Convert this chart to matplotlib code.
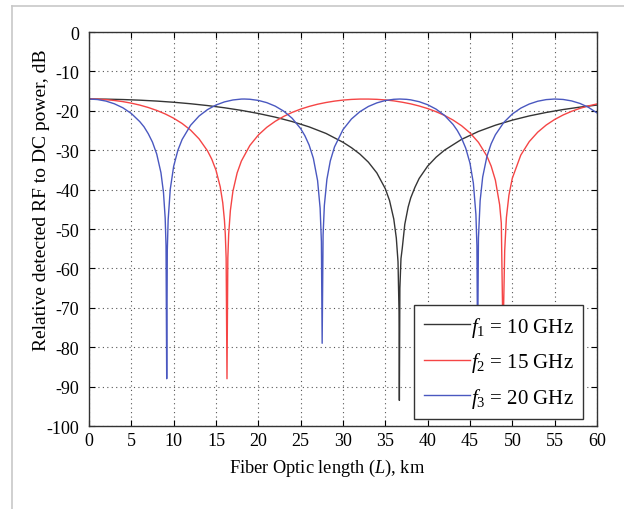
import matplotlib
matplotlib.use('Agg')
import matplotlib.pyplot as plt
from matplotlib.lines import Line2D

plt.rcParams['font.family'] = ['Liberation Serif', 'DejaVu Serif']
plt.rcParams['mathtext.fontset'] = 'custom'
plt.rcParams['mathtext.rm'] = 'Liberation Serif'
plt.rcParams['mathtext.it'] = 'Liberation Serif:italic'

# f1 = 10 GHz
L1 = [0, 2, 4, 6, 8, 10, 12, 14, 16, 18, 20, 22, 24, 26, 28, 30, 31, 32, 33, 34,
      35, 35.5, 36, 36.3, 36.5, 36.62, 36.66, 36.72, 36.85, 37, 37.3, 37.7, 38,
      38.5, 39, 40, 41, 42, 44, 46, 48, 50, 52, 54, 56, 58, 60]
P1 = [-17.0, -17.03, -17.13, -17.29, -17.52, -17.82, -18.2, -18.66, -19.22,
      -19.88, -20.67, -21.6, -22.72, -24.07, -25.74, -27.98, -29.35, -30.98,
      -33.03, -35.76, -39.77, -42.78, -47.46, -52.3, -58.3, -71.0, -93.5, -65.0,
      -57.5, -54.9, -48.8, -44.4, -42.1, -39.4, -37.15, -34.03, -31.76, -29.97,
      -27.25, -25.23, -23.65, -22.36, -21.29, -20.41, -19.67, -19.05, -18.53]

# f2 = 15 GHz
L2 = [0, 1, 2, 3, 4, 5, 6, 7, 8, 9, 10, 11, 12, 13, 14, 14.5, 15, 15.5, 15.8,
      16.0, 16.1, 16.2, 16.3, 16.4, 16.5, 16.7, 17.0, 17.5, 18, 19, 20, 21, 22,
      23, 24, 25, 26, 27, 28, 29, 30, 31, 32, 33, 34, 35, 36, 37, 38, 39, 40,
      41, 42, 43, 44, 45, 46, 47, 47.5, 48, 48.5, 48.7, 48.9, 49.1, 49.3, 49.6,
      50, 51, 52, 53, 54, 55, 56, 57, 58, 59, 60]
P2 = [-17.0, -17.04, -17.16, -17.37, -17.66, -18.05, -18.54, -19.15, -19.89,
      -20.78, -21.87, -23.21, -24.89, -27.11, -30.16, -32.26, -35.07, -39.27,
      -43.34, -47.78, -51.3, -57.4, -88.0, -57.3, -51.3, -45.3, -40.4, -35.75,
      -32.74, -28.79, -26.14, -24.18, -22.65, -21.41, -20.39, -19.56, -18.88,
      -18.32, -17.88, -17.53, -17.27, -17.1, -17.01, -17.01, -17.08, -17.23,
      -17.47, -17.81, -18.23, -18.77, -19.42, -20.22, -21.17, -22.34, -23.77,
      -25.59, -28.0, -31.49, -34.02, -37.6, -43.8, -48.5, -78.0, -55.5, -47.1,
      -41.4, -37.1, -31.24, -27.81, -25.42, -23.61, -22.19, -21.05, -20.12,
      -19.36, -18.74, -18.25]

# f3 = 20 GHz
L3 = [0, 1, 2, 3, 4, 5, 6, 6.5, 7, 7.5, 8, 8.5, 8.8, 9.0, 9.1, 9.18, 9.25, 9.35,
      9.6, 10, 10.5, 11, 12, 13, 14, 15, 16, 17, 18, 18.36, 19, 20, 21, 22, 23,
      24, 25, 25.5, 26, 26.5, 27, 27.3, 27.45, 27.54, 27.65, 27.8, 28.1, 28.5,
      29, 30, 31, 32, 33, 34, 35, 36, 36.7, 37.5, 38, 39, 40, 41, 42, 43, 43.5,
      44, 44.5, 45, 45.4, 45.7, 45.82, 45.9, 46.0, 46.2, 46.5, 47, 47.5, 48, 49,
      50, 51, 52, 53, 54, 55, 56, 57, 58, 59, 60]
P3 = [-17.0, -17.13, -17.52, -18.21, -19.22, -20.67, -22.74, -24.05, -25.8,
      -27.95, -30.96, -35.7, -40.74, -47.23, -54.3, -88.0, -55.4, -47.7, -39.9,
      -34.09, -30.0, -27.27, -23.67, -21.32, -19.68, -18.52, -17.73, -17.24,
      -17.01, -17.0, -17.06, -17.35, -17.92, -18.81, -20.08, -21.89, -24.51,
      -26.32, -28.68, -32.04, -37.7, -44.7, -53.2, -79.0, -51.5, -44.0, -37.4,
      -32.72, -29.14, -24.77, -22.07, -20.21, -18.89, -17.98, -17.38, -17.07,
      -17.0, -17.08, -17.21, -17.68, -18.45, -19.57, -21.17, -23.45, -24.98,
      -26.91, -29.49, -33.27, -38.37, -46.3, -54.3, -82.0, -52.3, -42.8, -36.8,
      -31.56, -28.36, -26.08, -22.92, -20.8, -19.31, -18.27, -17.56, -17.15,
      -17.0, -17.11, -17.48, -18.13, -19.12, -20.53]

labels = [r'$f_1$ = 10 GHz', r'$f_2$ = 15 GHz', r'$f_3$ = 20 GHz']
colors = ['#353535', '#f54545', '#4a58c0']

fig = plt.figure(figsize=(6.24, 5.1), dpi=100)
ax = fig.add_axes([0.1426, 0.1627, 0.8141, 0.7725])

for xs, ys, c, lab in zip([L1, L2, L3], [P1, P2, P3], colors, labels):
    ax.plot(xs, ys, color=c, lw=1.0, label=lab)

ax.set_xlim(0, 60)
ax.set_ylim(-100, 0)
ax.set_xticks(range(0, 61, 5))
ax.set_yticks(range(-100, 1, 10))
ax.set_yticklabels([str(v) for v in range(-100, 1, 10)])
ax.tick_params(direction='in', top=True, right=True, labelsize=13,
               length=4, width=0.8)
ax.tick_params(axis='y', pad=7)
ax.tick_params(axis='x', pad=4)
ax.grid(True, linestyle=(0, (1, 3)), color='#555555', linewidth=0.8)
for s in ax.spines.values():
    s.set_linewidth(1.0)
    s.set_color('#333333')

ax.set_xlabel(r'Fiber Optic length ($L$), km', fontsize=13.2)
ax.set_ylabel('Relative detected RF to DC power, dB', fontsize=14)
ax.xaxis.set_label_coords(0.469, -0.078)
ax.yaxis.set_label_coords(-0.077, 0.576)

leg = ax.legend(loc='lower right', bbox_to_anchor=(0.972, 0.018),
                fontsize=15, frameon=True, fancybox=False, framealpha=1,
                edgecolor='#333333', handlelength=2.2, handletextpad=0.05,
                labelspacing=0.55, borderpad=0.45, borderaxespad=0)
leg.get_frame().set_linewidth(1.0)

# light page frame (top and left edges)
fig.add_artist(Line2D([12 / 624, 1], [1 - 7 / 510, 1 - 7 / 510],
                      transform=fig.transFigure, color='#c8c8c8', lw=1.2))
fig.add_artist(Line2D([12 / 624, 12 / 624], [0, 1 - 7 / 510],
                      transform=fig.transFigure, color='#c8c8c8', lw=1.2))

fig.savefig('out.png', dpi=100, facecolor='white')
